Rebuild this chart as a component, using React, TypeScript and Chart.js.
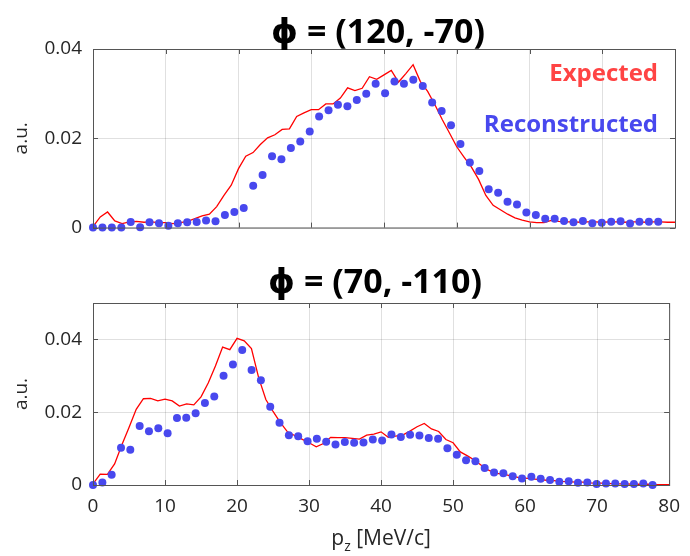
import React, { useEffect, useRef } from "react";
import { Chart, registerables } from "chart.js";

Chart.register(...registerables);

const FONT = "'Open Sans', 'DejaVu Sans', sans-serif";

// p_z positions of the reconstructed points (MeV/c)
const reconX = [
  0, 1.3, 2.59, 3.89, 5.18, 6.48, 7.77, 9.07, 10.36, 11.66, 12.95, 14.25, 15.54, 16.84, 18.13, 19.43,
  20.72, 22.02, 23.31, 24.61, 25.9, 27.2, 28.49, 29.79, 31.08, 32.38, 33.67, 34.97, 36.26, 37.56,
  38.85, 40.15, 41.44, 42.74, 44.03, 45.33, 46.62, 47.92, 49.21, 50.51, 51.8, 53.1, 54.39, 55.69,
  56.98, 58.28, 59.57, 60.87, 62.16, 63.46, 64.75, 66.05, 67.34, 68.64, 69.93, 71.23, 72.52, 73.82,
  75.11, 76.41, 77.7,
];

// p_z positions of the expected curve (MeV/c)
const expectedX = [
  0, 1, 2, 3, 4, 5, 6, 7, 8, 9, 10, 11, 12, 13, 14, 15, 16, 17, 18, 19, 20, 21, 22, 23, 24, 25, 26,
  27, 28, 29, 30, 31, 32, 33, 34, 35, 36, 37, 38, 39, 40, 41, 42, 43, 44, 45, 46, 47, 48, 49, 50, 51,
  52, 53, 54, 55, 56, 57, 58, 59, 60, 61, 62, 63, 64, 65, 66, 67, 68, 69, 70, 71, 72, 73, 74, 75, 76,
  77, 78, 79, 80,
];

const topTitle = "\u03D5 = (120, -70)";
const bottomTitle = "\u03D5 = (70, -110)";

const topExpected = [
  0.0002, 0.0024, 0.0035, 0.0015, 0.0009, 0.0013, 0.0014, 0.0012, 0.0013, 0.0011, 0.0011, 0.0009,
  0.0011, 0.0014, 0.002, 0.0026, 0.003, 0.0047, 0.0072, 0.0095, 0.0132, 0.016, 0.0168, 0.0186,
  0.0201, 0.0208, 0.022, 0.0221, 0.0249, 0.0257, 0.0264, 0.0264, 0.0277, 0.0277, 0.029, 0.0313,
  0.0307, 0.0312, 0.0338, 0.0332, 0.0342, 0.0352, 0.0326, 0.0345, 0.0365, 0.0327, 0.0305, 0.0275,
  0.0242, 0.0212, 0.0181, 0.0158, 0.0136, 0.0108, 0.0072, 0.005, 0.004, 0.003, 0.0022, 0.0017,
  0.0013, 0.0011, 0.0011, 0.0016, 0.0014, 0.0013, 0.0013, 0.0012, 0.0013, 0.0013, 0.0012, 0.0013,
  0.0013, 0.0012, 0.0013, 0.0013, 0.0012, 0.0013, 0.0013, 0.0012, 0.0012,
];

const topRecon = [
  0, 0, 0, 0, 0.00125, 0.0001, 0.0012, 0.001, 0.0004, 0.001, 0.0012, 0.00125, 0.0016, 0.0014,
  0.0028, 0.0035, 0.0044, 0.0094, 0.0118, 0.016, 0.0153, 0.0178, 0.0193, 0.0215, 0.0249, 0.0263,
  0.0275, 0.0272, 0.0286, 0.03, 0.0322, 0.0301, 0.0327, 0.0322, 0.0331, 0.0317, 0.028, 0.0261,
  0.0229, 0.0187, 0.0146, 0.0127, 0.0086, 0.0078, 0.0058, 0.0052, 0.0034, 0.0028, 0.002, 0.002,
  0.0015, 0.0012, 0.0015, 0.001, 0.0011, 0.0013, 0.0014, 0.0009, 0.0013, 0.0013, 0.0013,
];

const bottomExpected = [
  0.0003, 0.003, 0.0029, 0.0058, 0.011, 0.0158, 0.0208, 0.0237, 0.0238, 0.0231, 0.0236, 0.0231,
  0.0217, 0.0223, 0.022, 0.0242, 0.028, 0.0327, 0.0379, 0.0372, 0.0403, 0.0396, 0.0375, 0.0295,
  0.0235, 0.0202, 0.0172, 0.0146, 0.0136, 0.0126, 0.0116, 0.0105, 0.0114, 0.0131, 0.013, 0.013,
  0.0128, 0.0126, 0.0137, 0.014, 0.0146, 0.0131, 0.0134, 0.0137, 0.0148, 0.016, 0.0169, 0.0154,
  0.0147, 0.0125, 0.0116, 0.0091, 0.008, 0.0068, 0.0053, 0.004, 0.0032, 0.003, 0.0025, 0.0021,
  0.0019, 0.0017, 0.0015, 0.0013, 0.0012, 0.001, 0.0009, 0.0008, 0.0008, 0.0006, 0.0005, 0.0005,
  0.0004, 0.0003, 0.0003, 0.0002, 0.0002, 0.0002, 0.0001, 0.0001, 0.0001,
];

const bottomRecon = [
  0, 0.0007, 0.0028, 0.0102, 0.0097, 0.0162, 0.0148, 0.0156, 0.0142, 0.0184, 0.0185, 0.0197,
  0.0225, 0.0243, 0.03, 0.0331, 0.0371, 0.0316, 0.0288, 0.0215, 0.0171, 0.0137, 0.0134, 0.012,
  0.0127, 0.0119, 0.0111, 0.0118, 0.0116, 0.0117, 0.0125, 0.0122, 0.0139, 0.0132, 0.0138, 0.0136,
  0.0129, 0.0127, 0.0101, 0.0083, 0.0068, 0.0065, 0.0047, 0.0034, 0.0032, 0.0024, 0.0018, 0.0023,
  0.0017, 0.0014, 0.0009, 0.001, 0.0006, 0.0007, 0.0003, 0.0004, 0.0004, 0.0003, 0.0003, 0.0004, 0,
];

const yTickValues = [0, 0.02, 0.04];
const legendLabels = ["Expected", "Reconstructed"];
const yLabel = "a.u.";
const xLabelMain = "p";
const xLabelSub = "z";
const xLabelRest = " [MeV/c]";

const RED_LINE = "rgb(255,0,0)";
const RED_TEXT = "rgb(255,68,68)";
const BLUE = "rgb(72,72,238)";
const AXIS = "#555555";
const TEXT = "#262626";
const GRID = "rgba(0,0,0,0.12)";

type PanelProps = {
  top: number;
  height: number;
  title: string;
  expected: number[];
  recon: number[];
  ymax: number;
  showX: boolean;
  padTop: number;
  xAxisH: number;
  showLegend: boolean;
};

function Panel(p: PanelProps) {
  const ref = useRef<HTMLCanvasElement>(null);

  useEffect(() => {
    const canvas = ref.current;
    if (!canvas) return;

    const decor = {
      id: "decor",
      afterDraw(chart: any) {
        const { ctx, chartArea: a, scales } = chart;
        const xs = scales.x;
        const ys = scales.y;
        ctx.save();
        // inward tick marks
        ctx.strokeStyle = AXIS;
        ctx.lineWidth = 1;
        const tl = 5;
        ctx.beginPath();
        xs.ticks.forEach((t: any) => {
          const px = Math.round(xs.getPixelForValue(t.value)) + 0.5;
          ctx.moveTo(px, a.top);
          ctx.lineTo(px, a.top + tl);
          ctx.moveTo(px, a.bottom);
          ctx.lineTo(px, a.bottom - tl);
        });
        ys.ticks.forEach((t: any) => {
          const py = Math.round(ys.getPixelForValue(t.value)) + 0.5;
          ctx.moveTo(a.left, py);
          ctx.lineTo(a.left + tl, py);
          ctx.moveTo(a.right, py);
          ctx.lineTo(a.right - tl, py);
        });
        ctx.stroke();
        // box
        ctx.strokeRect(a.left + 0.5, a.top + 0.5, a.right - a.left, a.bottom - a.top);

        // title
        ctx.fillStyle = "#000";
        ctx.font = `bold 34px ${FONT}`;
        ctx.textAlign = "center";
        ctx.textBaseline = "alphabetic";
        ctx.fillText(p.title, (a.left + a.right) / 2 - 6, 43);

        if (p.showLegend) {
          ctx.font = `bold 24px ${FONT}`;
          ctx.textAlign = "right";
          ctx.fillStyle = RED_TEXT;
          ctx.fillText(legendLabels[0], 658, 81);
          ctx.fillStyle = BLUE;
          ctx.fillText(legendLabels[1], 658, 132);
        }

        if (p.showX) {
          const mainFont = `21px ${FONT}`;
          const subFont = `14px ${FONT}`;
          ctx.font = mainFont;
          const w1 = ctx.measureText(xLabelMain).width;
          const w3 = ctx.measureText(xLabelRest).width;
          ctx.font = subFont;
          const w2 = ctx.measureText(xLabelSub).width;
          const total = w1 + w2 + w3;
          const x0 = (a.left + a.right) / 2 - total / 2;
          const base = 295;
          ctx.textAlign = "left";
          ctx.fillStyle = TEXT;
          ctx.font = mainFont;
          ctx.fillText(xLabelMain, x0, base);
          ctx.font = subFont;
          ctx.fillText(xLabelSub, x0 + w1, base + 6);
          ctx.font = mainFont;
          ctx.fillText(xLabelRest, x0 + w1 + w2, base);
        }
        ctx.restore();
      },
    };

    const chart = new Chart(canvas, {
      type: "line",
      data: {
        datasets: [
          {
            label: legendLabels[1],
            data: reconX.map((x, i) => ({ x, y: p.recon[i] })),
            showLine: false,
            pointRadius: 4,
            pointBackgroundColor: BLUE,
            pointBorderWidth: 0,
            borderColor: BLUE,
            clip: false as any,
          },
          {
            label: legendLabels[0],
            data: expectedX.map((x, i) => ({ x, y: p.expected[i] })),
            borderColor: RED_LINE,
            borderWidth: 1.3,
            pointRadius: 0,
            tension: 0,
            fill: false,
            clip: false as any,
          },
        ],
      },
      options: {
        responsive: false,
        animation: false,
        devicePixelRatio: 1,
        layout: { padding: { top: p.padTop, right: 15, left: 0, bottom: 0 } },
        plugins: { legend: { display: false }, tooltip: { enabled: false }, title: { display: false } },
        scales: {
          x: {
            type: "linear",
            min: 0,
            max: 80,
            ticks: {
              stepSize: 10,
              display: p.showX,
              font: { family: FONT, size: 19 },
              color: TEXT,
              padding: 10,
              maxRotation: 0,
            },
            grid: { color: GRID, drawTicks: false },
            border: { display: false },
            afterFit: (s: any) => {
              s.height = p.xAxisH;
            },
          },
          y: {
            type: "linear",
            min: 0,
            max: p.ymax,
            afterBuildTicks: (s: any) => {
              s.ticks = yTickValues.map((v) => ({ value: v }));
            },
            ticks: {
              font: { family: FONT, size: 19 },
              color: TEXT,
              padding: 11,
              callback: (v: any) => (v === 0 ? "0" : Number(v).toFixed(2)),
            },
            grid: { color: GRID, drawTicks: false },
            border: { display: false },
            title: {
              display: true,
              text: yLabel,
              font: { family: FONT, size: 19 },
              color: TEXT,
              padding: { top: 10, bottom: 0 },
            },
            afterFit: (s: any) => {
              s.width = 93;
            },
          },
        },
      },
      plugins: [decor],
    });
    return () => chart.destroy();
  }, []);

  return (
    <canvas
      ref={ref}
      width={690}
      height={p.height}
      style={{ position: "absolute", left: 0, top: p.top, width: 690, height: p.height }}
    />
  );
}

export default function App() {
  return (
    <div style={{ position: "absolute", left: 0, top: 0, width: 690, height: 556, background: "#fff" }}>
      <Panel
        top={0}
        height={250}
        title={topTitle}
        expected={topExpected}
        recon={topRecon}
        ymax={0.04}
        showX={false}
        padTop={49}
        xAxisH={21}
        showLegend={true}
      />
      <Panel
        top={250}
        height={306}
        title={bottomTitle}
        expected={bottomExpected}
        recon={bottomRecon}
        ymax={0.05}
        showX={true}
        padTop={53}
        xAxisH={71}
        showLegend={false}
      />
    </div>
  );
}
